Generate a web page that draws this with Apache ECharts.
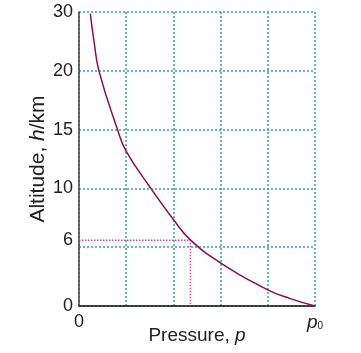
<!DOCTYPE html>
<html>
<head>
<meta charset="utf-8">
<script src="https://cdn.jsdelivr.net/npm/echarts@6/dist/echarts.min.js"></script>
<style>
  html, body { margin: 0; padding: 0; background: #fff; }
  #chart { width: 361px; height: 353px; }
</style>
</head>
<body>
<div id="chart"></div>
<script>
// pressure as a fraction of p0 (x), and altitude as position on the drawn axis (y, grid rows)
const pressure = [0.048, 0.064, 0.085, 0.163, 0.199, 0.301, 0.400, 0.473, 0.601, 0.802, 0.895, 1.0]
const altitudePos = [4.97, 4.49, 3.99, 3.0, 2.64, 2.02, 1.47, 1.12, 0.73, 0.27, 0.126, 0]

// tick labels on the altitude axis and where they sit
const yTickPos = [0, 1.12, 2, 3, 4, 5]
const yTickLabels = ['0', '6', '10', '15', '20', '30']

// x tick labels
const xTickPos = [0, 1]
const xTickLabels = ['0', '{p|p}{s|0}']

// dotted guide at h = 6 km
const guidePos = 1.12
const guidePressure = 0.472

const gridColor = '#36a09c'
const curveColor = '#8c0c52'

const chart = echarts.init(document.getElementById('chart'))

chart.setOption({
    animation: false,
    backgroundColor: '#fff',
    grid: { left: 79, right: 46, top: 12, bottom: 47, outerBoundsMode: 'none' },
    xAxis: {
        type: 'value',
        min: 0,
        max: 1,
        interval: 0.2,
        name: '{a|Pressure, }{i|p}',
        nameLocation: 'middle',
        nameGap: 20,
        nameMoveOverlap: false,
        nameTextStyle: {
            rich: {
                a: { fontFamily: 'Liberation Sans', fontSize: 19, color: '#222' },
                i: { fontFamily: 'Liberation Sans', fontSize: 19, fontStyle: 'italic', color: '#222' }
            }
        },
        axisLine: { show: true, onZero: false, lineStyle: { color: '#111', width: 1.5 } },
        axisTick: { show: false },
        splitLine: { show: true, lineStyle: { color: gridColor, type: [2, 2], width: 1.5 } },
        axisLabel: {
            customValues: xTickPos,
            margin: 7,
            fontFamily: 'Liberation Sans',
            fontSize: 18,
            color: '#222',
            formatter: v => xTickLabels[xTickPos.indexOf(v)] ?? '',
            rich: {
                p: { fontFamily: 'Liberation Sans', fontSize: 19, fontStyle: 'italic', color: '#222' },
                s: { fontFamily: 'Liberation Sans', fontSize: 10, color: '#222', padding: [8, 0, 0, 0] }
            }
        }
    },
    yAxis: {
        type: 'value',
        min: 0,
        max: 5,
        interval: 1,
        name: '{a|Altitude, }{i|h}{a|/km}',
        nameLocation: 'middle',
        nameGap: 30,
        nameMoveOverlap: false,
        nameTextStyle: {
            rich: {
                a: { fontFamily: 'Liberation Sans', fontSize: 21, color: '#222' },
                i: { fontFamily: 'Liberation Sans', fontSize: 21, fontStyle: 'italic', color: '#222' }
            }
        },
        axisLine: { show: true, onZero: false, lineStyle: { color: '#444', width: 1.5 } },
        axisTick: { show: false },
        splitLine: { show: true, lineStyle: { color: gridColor, type: [2, 2], width: 1.5 } },
        axisLabel: {
            customValues: yTickPos,
            margin: 6,
            fontFamily: 'Liberation Sans',
            fontSize: 18,
            color: '#222',
            formatter: v => yTickLabels[yTickPos.indexOf(v)] ?? ''
        }
    },
    series: [
        {
            type: 'line',
            data: [[0, guidePos], [guidePressure, guidePos], [guidePressure, 0]],
            symbol: 'none',
            lineStyle: { color: '#c2528f', width: 1.5, type: [1.5, 1.5] },
            z: 3
        },
        {
            type: 'line',
            data: pressure.map((p, i) => [p, altitudePos[i]]),
            smooth: 0.45,
            symbol: 'none',
            lineStyle: { color: curveColor, width: 1.5 },
            z: 4
        }
    ]
})
</script>
</body>
</html>
